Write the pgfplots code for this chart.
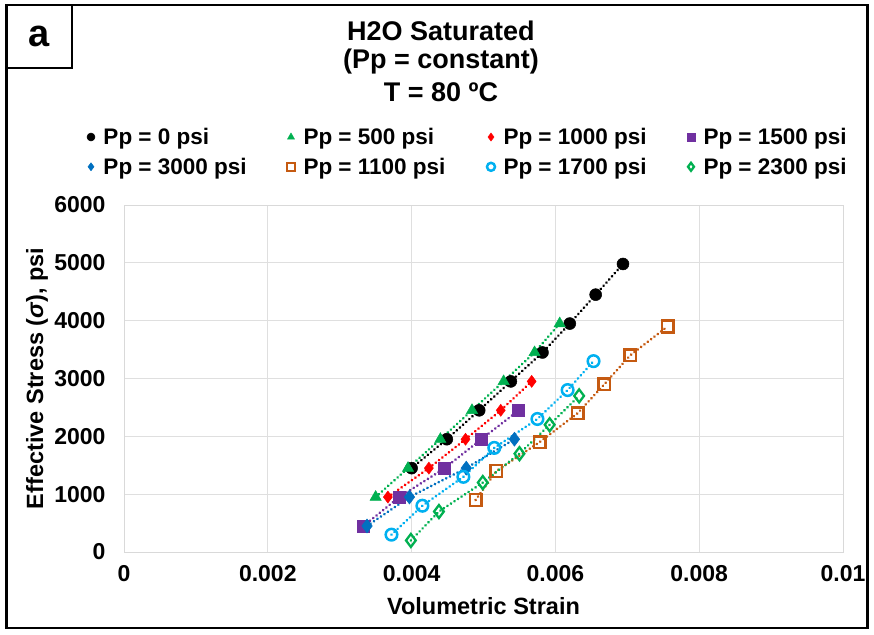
\documentclass[border=0pt]{standalone}
\usepackage{fontspec}
\setmainfont{Liberation Sans}
\usepackage{pgfplots}
\pgfplotsset{compat=1.18}
\definecolor{cgreen}{RGB}{0,176,80}
\definecolor{cred}{RGB}{255,0,0}
\definecolor{cpurple}{RGB}{112,48,160}
\definecolor{cblue}{RGB}{0,112,192}
\definecolor{corange}{RGB}{197,90,17}
\definecolor{clblue}{RGB}{0,176,240}
\pgfplotsset{dl/.style={line width=3pt, line cap=round, dash pattern=on 0.01pt off 4.2pt}}
\newcommand{\lgx}[1]{\makebox[150pt][l]{#1}}
\begin{document}
\begin{tikzpicture}[x=1pt,y=1pt]
\useasboundingbox (0,0) rectangle (874,634);
\begin{axis}[
  at={(124pt,82pt)}, anchor=south west, scale only axis,
  width=719pt, height=347pt,
  xmin=0, xmax=0.01, ymin=0, ymax=6000,
  xtick={0,0.002,0.004,0.006,0.008,0.01},
  xticklabels={0,0.002,0.004,0.006,0.008,0.01},
  scaled x ticks=false,
  ytick={0,1000,2000,3000,4000,5000,6000},
  /pgf/number format/assume math mode=true,
  /pgf/number format/1000 sep={},
  grid=major,
  major grid style={draw=gray!25, line width=1pt},
  axis line style={draw=gray!30, line width=1pt},
  tick style={draw=none},
  ticklabel style={font=\fontsize{23}{23}\selectfont\bfseries},
  xticklabel style={yshift=-10pt},
  yticklabel style={xshift=-15pt},
  xlabel={Volumetric Strain},
  ylabel={Effective Stress ({\itshape σ}), psi},
  label style={font=\fontsize{23.5}{23.5}\selectfont\bfseries},
  xlabel style={at={(axis description cs:0.5,-0.156)}, anchor=center},
  ylabel style={at={(axis description cs:-0.121,0.5)}, anchor=center},
  legend columns=4,
  legend cell align=left,
  legend image code/.code={\draw[#1, only marks, mark size=4pt] plot coordinates {(0pt,0pt)}; \path (-4pt,0pt) (9pt,0pt);},
  legend style={at={(axis description cs:-0.058,1.153)}, anchor=west, draw=none, fill=none,
    font=\fontsize{22.5}{22.5}\selectfont\bfseries, row sep=8pt,
    /tikz/every even column/.append style={column sep=30pt}},
]
\addplot[dl, black, mark=*, mark size=6pt, mark options={solid, line width=0.5pt}] coordinates {
(0.00400,1450) (0.00449,1950) (0.00494,2450) (0.00538,2950) (0.00582,3450) (0.00620,3950) (0.00656,4450) (0.00694,4980)};
\addlegendentry{\lgx{Pp = 0 psi}}
\addplot[dl, cgreen, mark=triangle*, mark size=6.5pt, mark options={solid, line width=0.5pt}] coordinates {
(0.00350,950) (0.00395,1450) (0.00440,1950) (0.00484,2450) (0.00528,2950) (0.00571,3450) (0.00606,3950)};
\addlegendentry{\lgx{Pp = 500 psi}}
\addplot[dl, cred, mark=diamond*, mark size=6pt, mark options={solid, line width=0.5pt}] coordinates {
(0.00367,950) (0.00424,1450) (0.00475,1950) (0.00524,2450) (0.00567,2950)};
\addlegendentry{\lgx{Pp = 1000 psi}}
\addplot[dl, cpurple, mark=square*, mark size=6pt, mark options={solid, line width=0.5pt}] coordinates {
(0.00333,450) (0.00383,950) (0.00446,1450) (0.00497,1950) (0.00549,2450)};
\addlegendentry{\lgx{Pp = 1500 psi}}
\addplot[dl, cblue, mark=diamond*, mark size=7pt, mark options={solid, line width=0.5pt}] coordinates {
(0.00338,450) (0.00397,950) (0.00476,1450) (0.00543,1950)};
\addlegendentry{\lgx{Pp = 3000 psi}}
\addplot[dl, corange, mark=square, mark size=5.8pt, mark options={solid, line width=2.5pt, fill=white}] coordinates {
(0.00489,900) (0.00518,1400) (0.00578,1900) (0.00631,2400) (0.00668,2900) (0.00704,3400) (0.00756,3900)};
\addlegendentry{\lgx{Pp = 1100 psi}}
\addplot[dl, clblue, mark=o, mark size=5.8pt, mark options={solid, line width=2.5pt}] coordinates {
(0.00372,300) (0.00415,800) (0.00472,1300) (0.00515,1800) (0.00575,2300) (0.00617,2800) (0.00653,3300)};
\addlegendentry{\lgx{Pp = 1700 psi}}
\addplot[dl, cgreen, mark=diamond, mark size=6.5pt, mark options={solid, line width=2.3pt}] coordinates {
(0.00399,200) (0.00438,700) (0.00499,1200) (0.00550,1700) (0.00592,2200) (0.00633,2700)};
\addlegendentry{\lgx{Pp = 2300 psi}}
\end{axis}
\node[font=\fontsize{27}{27}\selectfont\bfseries] at (441,603) {H2O Saturated};
\node[font=\fontsize{27}{27}\selectfont\bfseries] at (441,572) {(Pp = constant)};
\node[font=\fontsize{27}{27}\selectfont\bfseries] at (441,542) {T = 80 ºC};
\draw[line width=1.5pt] (72,629) -- (72,566) -- (6.5,566);
\node[font=\fontsize{38}{38}\selectfont\bfseries] at (39,598) {a};
\draw[line width=2.5pt] (6.5,6) rectangle (867.5,629);
\end{tikzpicture}
\end{document}
